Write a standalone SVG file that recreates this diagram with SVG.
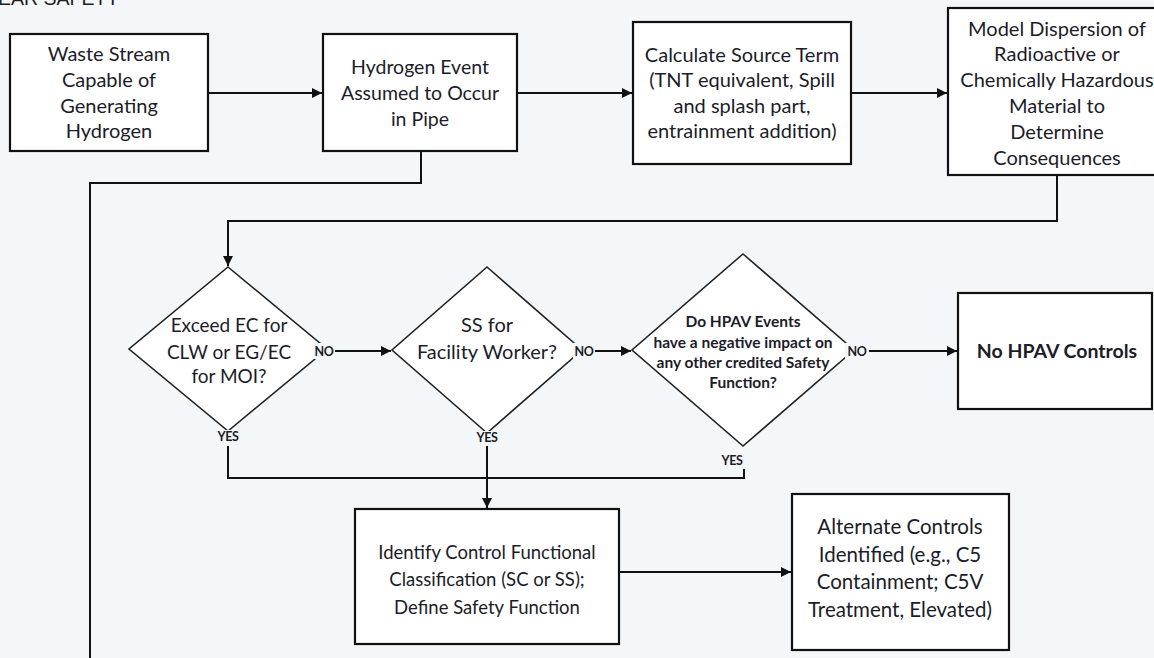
<svg xmlns="http://www.w3.org/2000/svg" width="1154" height="658" viewBox="0 0 1154 658">
<defs>
<marker id="arr" viewBox="0 0 10 10" refX="10" refY="5" markerWidth="10" markerHeight="10" markerUnits="userSpaceOnUse" orient="auto">
<path d="M0,0 L10,5 L0,10 z" fill="#111"/>
</marker>
<style>
.bg{fill:#f4f7f9}
.box{fill:#ffffff;stroke:#111;stroke-width:2.2}
.dia{fill:#ffffff;stroke:#222;stroke-width:1.6}
.t{font-family:Lato,"Noto Sans",sans-serif;font-size:20px;fill:#1c1c2a;text-anchor:middle}
.ts{font-family:Lato,"Noto Sans",sans-serif;font-size:15.5px;font-weight:bold;fill:#1c1c2a;text-anchor:middle}
.lbl{font-family:Lato,"Noto Sans",sans-serif;font-size:12.5px;font-weight:bold;fill:#1c1c2a;text-anchor:middle;letter-spacing:-0.3px}
.big{font-family:Lato,"Noto Sans",sans-serif;font-size:19.5px;font-weight:bold;fill:#1c1c2a;text-anchor:middle}
.ln{fill:none;stroke:#111;stroke-width:2}
.lb{fill:#f4f7f9}
</style>
</defs>
<rect class="bg" x="0" y="0" width="1154" height="658"/>
<text x="-2" y="5" style="font-family:'Liberation Sans',sans-serif;font-size:19.5px;fill:#222">EAR SAFETY</text>

<g id="connectors">
<path class="ln" d="M208,93 L322,93" marker-end="url(#arr)"/>
<path class="ln" d="M517,93 L632,93" marker-end="url(#arr)"/>
<path class="ln" d="M851,93 L947,93" marker-end="url(#arr)"/>
<path class="ln" d="M1057,175 L1057,221 L228,221 L228,266" marker-end="url(#arr)"/>
<path class="ln" d="M421,151 L421,183 L90,183 L90,660"/>
<path class="ln" d="M334,351 L391,351" marker-end="url(#arr)"/>
<path class="ln" d="M594,351 L631,351" marker-end="url(#arr)"/>
<path class="ln" d="M869,351 L957,351" marker-end="url(#arr)"/>
<path class="ln" d="M228,446 L228,478 L744,478 L744,469"/>
<path class="ln" d="M487,446 L487,508" marker-end="url(#arr)"/>
<path class="ln" d="M619,572 L791,572" marker-end="url(#arr)"/>
</g>

<g id="n1">
<rect class="box" x="10" y="34" width="198" height="117"/>
<text class="t" x="109" y="61">Waste Stream</text>
<text class="t" x="109" y="87">Capable of</text>
<text class="t" x="109" y="113">Generating</text>
<text class="t" x="109" y="138">Hydrogen</text>
</g>

<g id="n2">
<rect class="box" x="323" y="34" width="194" height="117"/>
<text class="t" x="420" y="74" style="font-size:19.5px">Hydrogen Event</text>
<text class="t" x="420" y="100" style="font-size:19.5px">Assumed to Occur</text>
<text class="t" x="420" y="126" style="font-size:19.5px">in Pipe</text>
</g>

<g id="n3">
<rect class="box" x="633" y="22" width="218" height="142"/>
<text class="t" x="742" y="62">Calculate Source Term</text>
<text class="t" x="742" y="87">(TNT equivalent, Spill</text>
<text class="t" x="742" y="113">and splash part,</text>
<text class="t" x="742" y="138">entrainment addition)</text>
</g>

<g id="n4">
<rect class="box" x="948" y="8" width="218" height="167"/>
<text class="t" x="1057" y="36">Model Dispersion of</text>
<text class="t" x="1057" y="61">Radioactive or</text>
<text class="t" x="1057" y="87">Chemically Hazardous</text>
<text class="t" x="1057" y="113">Material to</text>
<text class="t" x="1057" y="139">Determine</text>
<text class="t" x="1057" y="165">Consequences</text>
</g>

<g id="d1">
<polygon class="dia" points="228,267 327,349 228,431 129,349"/>
<text class="t" x="229" y="332" style="font-size:19px">Exceed EC for</text>
<text class="t" x="229" y="359" style="font-size:19px">CLW or EG/EC</text>
<text class="t" x="229" y="383" style="font-size:19px">for MOI?</text>
<rect class="lb" x="313" y="343" width="22" height="16"/>
<text class="lbl" x="324" y="356">NO</text>
<rect class="lb" x="215" y="430" width="26" height="14"/>
<text class="lbl" x="228" y="441">YES</text>
</g>

<g id="d2">
<polygon class="dia" points="487,267 582,350 487,433 392,350"/>
<text class="t" x="487" y="332">SS for</text>
<text class="t" x="487" y="359">Facility Worker?</text>
<rect class="lb" x="573" y="343" width="22" height="16"/>
<text class="lbl" x="584" y="356">NO</text>
<rect class="lb" x="474" y="431" width="26" height="14"/>
<text class="lbl" x="487" y="442">YES</text>
</g>

<g id="d3">
<polygon class="dia" points="743,254 854,350 743,446 632,350"/>
<text class="ts" x="743" y="327">Do HPAV Events</text>
<text class="ts" x="743" y="348">have a negative impact on</text>
<text class="ts" x="743" y="368">any other credited Safety</text>
<text class="ts" x="743" y="388">Function?</text>
<rect class="lb" x="845" y="343" width="24" height="16"/>
<text class="lbl" x="857" y="356">NO</text>
<rect class="lb" x="719" y="453" width="26" height="14"/>
<text class="lbl" x="732" y="465">YES</text>
</g>

<g id="n5">
<rect class="box" x="958" y="293" width="194" height="116"/>
<text class="big" x="1057" y="358">No HPAV Controls</text>
</g>

<g id="n6">
<rect class="box" x="355" y="509" width="264" height="135"/>
<text class="t" x="487" y="559" style="font-size:18.5px">Identify Control Functional</text>
<text class="t" x="487" y="586" style="font-size:18.5px">Classification (SC or SS);</text>
<text class="t" x="487" y="614" style="font-size:18.5px">Define Safety Function</text>
</g>

<g id="n7">
<rect class="box" x="792" y="494" width="217" height="156"/>
<text class="t" x="900" y="534" style="font-size:20.5px">Alternate Controls</text>
<text class="t" x="900" y="562" style="font-size:20.5px">Identified (e.g., C5</text>
<text class="t" x="900" y="589" style="font-size:20.5px">Containment; C5V</text>
<text class="t" x="900" y="617" style="font-size:20.5px">Treatment, Elevated)</text>
</g>
</svg>
